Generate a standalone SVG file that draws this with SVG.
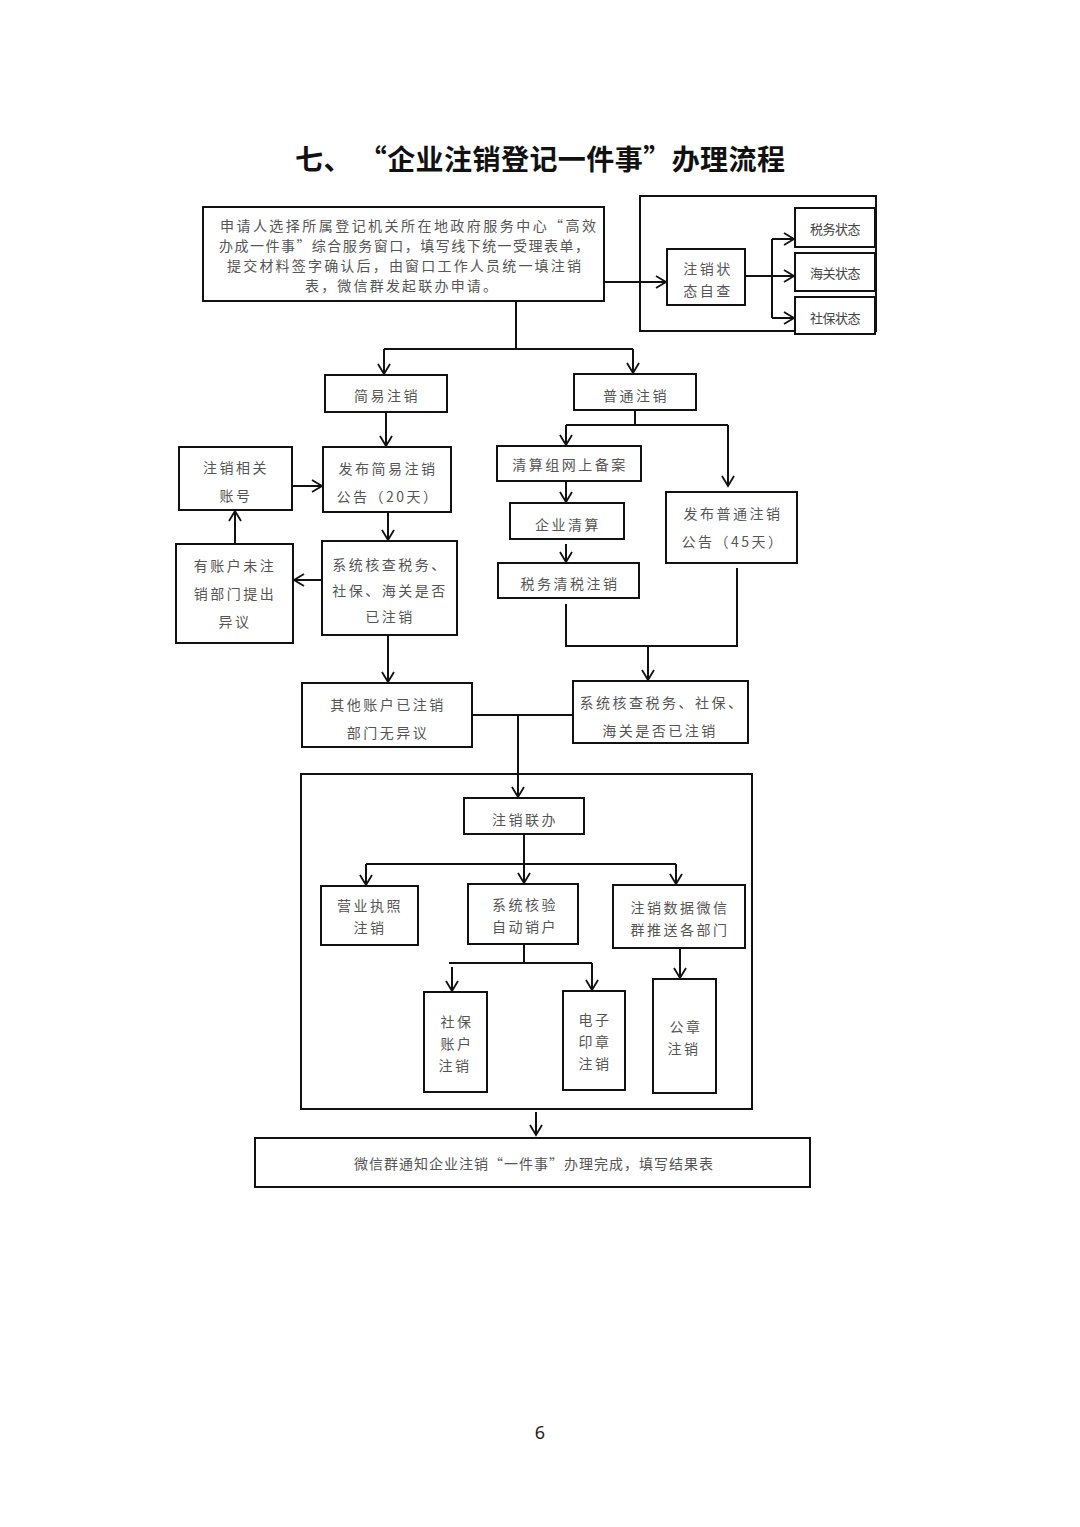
<svg xmlns="http://www.w3.org/2000/svg" width="1080" height="1527" viewBox="0 0 1080 1527">
<defs>
<marker id="ah" markerUnits="userSpaceOnUse" markerWidth="14" markerHeight="14" refX="11" refY="7" orient="auto">
<path d="M1,1 L11,7 L1,13" fill="none" stroke="#111" stroke-width="1.8"/>
</marker>
<style>
.b{fill:#fff;stroke:#111;stroke-width:2}
.t{font-family:"Noto Sans CJK SC","Noto Sans",sans-serif;font-size:14px;fill:#555;text-anchor:middle;dominant-baseline:central;letter-spacing:2.5px}
.s{font-family:"Noto Sans CJK SC","Noto Sans",sans-serif;font-size:13px;fill:#444;text-anchor:middle;dominant-baseline:central;letter-spacing:-0.5px}
.c{fill:none;stroke:#111;stroke-width:2}
.a{fill:none;stroke:#111;stroke-width:2;marker-end:url(#ah)}
</style>
</defs>
<rect width="1080" height="1527" fill="#fff"/>
<text x="540" y="158" font-family="'Noto Sans CJK SC','Noto Sans',sans-serif" font-size="28" font-weight="bold" fill="#111" text-anchor="middle" dominant-baseline="central" textLength="490" lengthAdjust="spacing">七、 “企业注销登记一件事”办理流程</text>

<g id="frame-top"><rect class="b" x="640" y="196" width="236" height="135" fill="none"/></g>
<g id="frame-big"><rect class="b" x="301" y="774" width="451" height="335" fill="none"/></g>

<g id="connectors">
<line class="a" x1="604" y1="282" x2="666" y2="282"/>
<polyline class="c" points="745,276 772,276"/>
<line class="c" x1="772" y1="239" x2="772" y2="318"/>
<line class="a" x1="772" y1="239" x2="794" y2="239"/>
<line class="a" x1="772" y1="276" x2="794" y2="276"/>
<line class="a" x1="772" y1="318" x2="794" y2="318"/>
<line class="c" x1="516" y1="301" x2="516" y2="349"/>
<line class="c" x1="384" y1="349" x2="633" y2="349"/>
<line class="a" x1="384" y1="349" x2="384" y2="374"/>
<line class="a" x1="633" y1="349" x2="633" y2="373"/>
<line class="a" x1="386" y1="412" x2="386" y2="446"/>
<line class="a" x1="292" y1="486" x2="322" y2="486"/>
<line class="a" x1="388" y1="512" x2="388" y2="540"/>
<line class="a" x1="322" y1="580" x2="294" y2="580"/>
<line class="a" x1="235" y1="544" x2="235" y2="511"/>
<line class="a" x1="388" y1="635" x2="388" y2="682"/>
<line class="c" x1="635" y1="410" x2="635" y2="425"/>
<line class="c" x1="566" y1="425" x2="728" y2="425"/>
<line class="a" x1="566" y1="425" x2="566" y2="445"/>
<line class="a" x1="728" y1="425" x2="728" y2="486"/>
<line class="a" x1="566" y1="481" x2="566" y2="502"/>
<line class="a" x1="566" y1="544" x2="566" y2="562"/>
<polyline class="c" points="566,604 566,646 737,646 737,568"/>
<line class="a" x1="648" y1="646" x2="648" y2="680"/>
<line class="c" x1="472" y1="715" x2="573" y2="715"/>
<line class="a" x1="518" y1="715" x2="518" y2="797"/>
<line class="c" x1="524" y1="834" x2="524" y2="883"/>
<line class="c" x1="366" y1="864" x2="676" y2="864"/>
<line class="a" x1="366" y1="864" x2="366" y2="885"/>
<line class="a" x1="524" y1="864" x2="524" y2="883"/>
<line class="a" x1="676" y1="864" x2="676" y2="884"/>
<line class="c" x1="524" y1="944" x2="524" y2="963"/>
<line class="c" x1="449" y1="963" x2="592" y2="963"/>
<line class="a" x1="452" y1="967" x2="452" y2="991"/>
<line class="a" x1="592" y1="963" x2="592" y2="990"/>
<line class="a" x1="680" y1="948" x2="680" y2="978"/>
<line class="a" x1="536" y1="1112" x2="536" y2="1135"/>
</g>

<g id="n-apply"><rect class="b" x="203" y="207" width="401" height="94"/>
<text class="t" x="408" y="225" textLength="376" lengthAdjust="spacing" style="letter-spacing:0">申请人选择所属登记机关所在地政府服务中心“高效</text>
<text class="t" x="404" y="245" textLength="370" lengthAdjust="spacing" style="letter-spacing:0">办成一件事”综合服务窗口，填写线下统一受理表单，</text>
<text class="t" x="404" y="265" textLength="354" lengthAdjust="spacing" style="letter-spacing:0">提交材料签字确认后，由窗口工作人员统一填注销</text>
<text class="t" x="401" y="285" textLength="192" lengthAdjust="spacing" style="letter-spacing:0">表，微信群发起联办申请。</text></g>

<g id="n-selfcheck"><rect class="b" x="667" y="249" width="78" height="56"/>
<text class="t" x="708" y="268">注销状</text><text class="t" x="708" y="290">态自查</text></g>
<g id="n-tax"><rect class="b" x="795" y="208" width="80" height="39"/><text class="s" x="835" y="228">税务状态</text></g>
<g id="n-customs"><rect class="b" x="795" y="253" width="80" height="38"/><text class="s" x="835" y="272">海关状态</text></g>
<g id="n-social"><rect class="b" x="795" y="297" width="80" height="37"/><text class="s" x="835" y="317">社保状态</text></g>

<g id="n-simple"><rect class="b" x="325" y="375" width="122" height="37"/><text class="t" x="387" y="395">简易注销</text></g>
<g id="n-simple-notice"><rect class="b" x="323" y="447" width="128" height="65"/>
<text class="t" x="388" y="468">发布简易注销</text><text class="t" x="388" y="496">公告（20天）</text></g>
<g id="n-accounts"><rect class="b" x="179" y="447" width="113" height="63"/>
<text class="t" x="236" y="467">注销相关</text><text class="t" x="236" y="495">账号</text></g>
<g id="n-check-left"><rect class="b" x="322" y="541" width="135" height="94"/>
<text class="t" x="390" y="564">系统核查税务、</text><text class="t" x="390" y="590">社保、海关是否</text><text class="t" x="390" y="616">已注销</text></g>
<g id="n-objection"><rect class="b" x="176" y="544" width="117" height="99"/>
<text class="t" x="235" y="565">有账户未注</text><text class="t" x="235" y="593">销部门提出</text><text class="t" x="235" y="621">异议</text></g>
<g id="n-noobj"><rect class="b" x="302" y="683" width="170" height="64"/>
<text class="t" x="388" y="704">其他账户已注销</text><text class="t" x="388" y="732">部门无异议</text></g>

<g id="n-normal"><rect class="b" x="574" y="374" width="122" height="36"/><text class="t" x="636" y="395">普通注销</text></g>
<g id="n-filing"><rect class="b" x="497" y="446" width="144" height="35"/><text class="t" x="570" y="464">清算组网上备案</text></g>
<g id="n-liquidation"><rect class="b" x="510" y="503" width="114" height="36"/><text class="t" x="568" y="524">企业清算</text></g>
<g id="n-taxclear"><rect class="b" x="498" y="563" width="141" height="35"/><text class="t" x="570" y="583">税务清税注销</text></g>
<g id="n-normal-notice"><rect class="b" x="666" y="492" width="131" height="71"/>
<text class="t" x="733" y="513">发布普通注销</text><text class="t" x="733" y="541">公告（45天）</text></g>
<g id="n-check-right"><rect class="b" x="573" y="681" width="175" height="62"/>
<text class="t" x="662" y="702">系统核查税务、社保、</text><text class="t" x="660" y="730">海关是否已注销</text></g>

<g id="n-joint"><rect class="b" x="464" y="798" width="120" height="36"/><text class="t" x="525" y="819">注销联办</text></g>
<g id="n-license"><rect class="b" x="321" y="886" width="97" height="59"/>
<text class="t" x="370" y="905">营业执照</text><text class="t" x="370" y="927">注销</text></g>
<g id="n-verify"><rect class="b" x="468" y="884" width="110" height="60"/>
<text class="t" x="525" y="904">系统核验</text><text class="t" x="525" y="926">自动销户</text></g>
<g id="n-push"><rect class="b" x="613" y="885" width="132" height="63"/>
<text class="t" x="680" y="907">注销数据微信</text><text class="t" x="680" y="929">群推送各部门</text></g>
<g id="n-social-acc"><rect class="b" x="424" y="992" width="63" height="100"/>
<text class="t" x="457" y="1021">社保</text><text class="t" x="457" y="1043">账户</text><text class="t" x="455" y="1065">注销</text></g>
<g id="n-eseal"><rect class="b" x="563" y="991" width="62" height="99"/>
<text class="t" x="595" y="1019">电子</text><text class="t" x="595" y="1041">印章</text><text class="t" x="595" y="1063">注销</text></g>
<g id="n-seal"><rect class="b" x="653" y="979" width="63" height="114"/>
<text class="t" x="686" y="1026">公章</text><text class="t" x="684" y="1048">注销</text></g>

<g id="n-done"><rect class="b" x="255" y="1138" width="555" height="49"/>
<text class="t" x="534" y="1163" style="letter-spacing:1px">微信群通知企业注销“一件事”办理完成，填写结果表</text></g>

<text x="540" y="1432" font-family="'Noto Sans',sans-serif" font-size="18" fill="#222" text-anchor="middle" dominant-baseline="central">6</text>
</svg>
